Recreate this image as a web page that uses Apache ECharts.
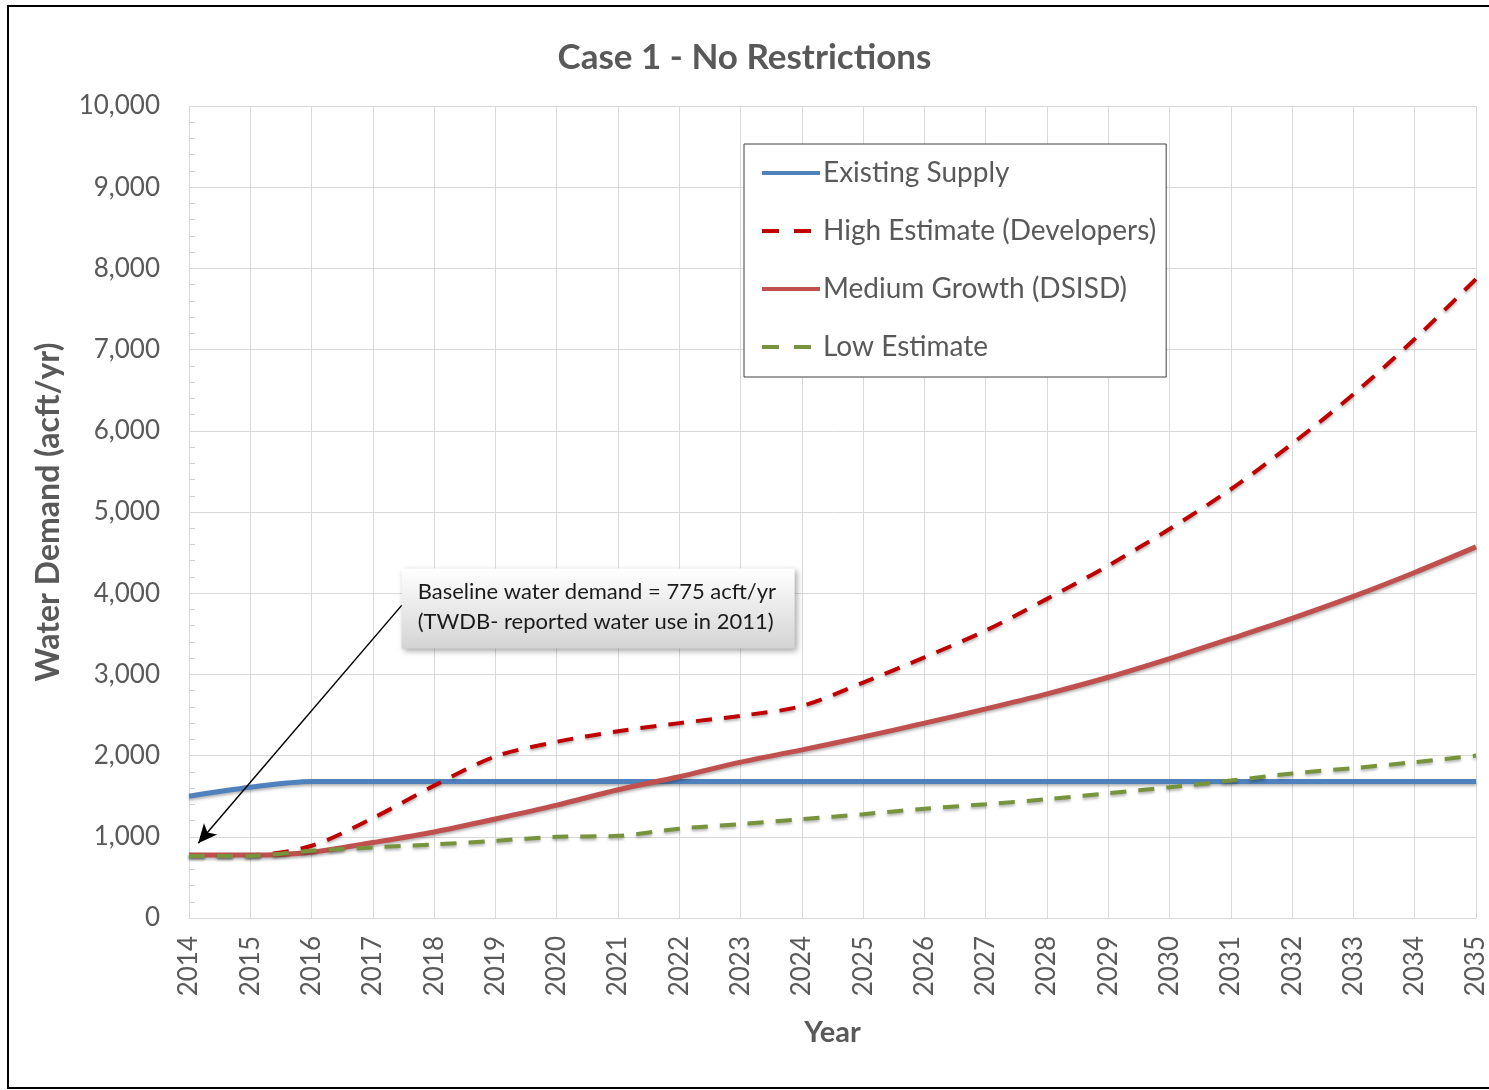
<!DOCTYPE html>
<html lang="en">
<head>
<meta charset="UTF-8">
<title>Case 1 - No Restrictions</title>
<script src="https://cdn.jsdelivr.net/npm/echarts@6/dist/echarts.min.js"></script>
<style>
  html, body { margin: 0; padding: 0; background: #fff; }
</style>
</head>
<body>
<div id="main" style="width:1489px;height:1090px;"></div>
<script>
  // years on the x axis
  var years = [2014, 2015, 2016, 2017, 2018, 2019, 2020, 2021, 2022, 2023, 2024,
               2025, 2026, 2027, 2028, 2029, 2030, 2031, 2032, 2033, 2034, 2035];

  // acft/yr
  var existingSupply = [1500, 1610, 1680, 1680, 1680, 1680, 1680, 1680, 1680, 1680, 1680,
                        1680, 1680, 1680, 1680, 1680, 1680, 1680, 1680, 1680, 1680, 1680];
  var highEstimate = [775, 775, 890, 1230, 1630, 1990, 2170, 2300, 2400, 2490, 2610,
                      2900, 3210, 3540, 3930, 4340, 4790, 5280, 5840, 6450, 7130, 7870];
  var mediumGrowth = [775, 775, 810, 930, 1060, 1220, 1390, 1580, 1740, 1920, 2070,
                      2230, 2400, 2575, 2760, 2965, 3195, 3440, 3690, 3960, 4255, 4570];
  var lowEstimate = [765, 765, 828, 869, 906, 951, 1000, 1012, 1100, 1156, 1217,
                     1279, 1345, 1402, 1463, 1537, 1610, 1692, 1780, 1846, 1920, 2000];

  var seriesNames = ['Existing Supply', 'High Estimate (Developers)', 'Medium Growth (DSISD)', 'Low Estimate'];

  // callout: arrow goes from the box to the 2014 baseline point
  var arrowFrom = [2017.47, 3850];
  var arrowTo = [2014.15, 920];
  var noteText = 'Baseline water demand = 775 acft/yr\n(TWDB- reported water use in 2011)';

  var font = 'Lato, "Open Sans", sans-serif';
  var grey = '#595959';

  function pairs(arr) {
    return years.map(function (y, i) { return [y, arr[i]]; });
  }

  var shadow = { shadowBlur: 3, shadowColor: 'rgba(0,0,0,0.3)', shadowOffsetY: 2 };
  var legendDash = { type: [17, 15] };

  var myChart = echarts.init(document.getElementById('main'));

  var option = {
    backgroundColor: '#fff',
    animation: false,
    textStyle: { fontFamily: font },
    title: {
      text: 'Case 1 - No Restrictions',
      left: 'center',
      top: 35,
      textStyle: { fontSize: 35, fontWeight: 'bold', color: grey, fontFamily: font }
    },
    legend: {
      orient: 'vertical',
      left: 744,
      top: 144,
      backgroundColor: '#fff',
      borderColor: '#404040',
      borderWidth: 1,
      padding: [15, 10, 16, 16],
      itemWidth: 58,
      itemHeight: 28,
      itemGap: 30,
      itemStyle: { opacity: 0 },
      lineStyle: { width: 4 },
      textStyle: { fontSize: 28, color: grey, fontFamily: font, padding: [0, 0, 0, -2] },
      data: [
        { name: seriesNames[0] },
        { name: seriesNames[1], lineStyle: legendDash },
        { name: seriesNames[2] },
        { name: seriesNames[3], lineStyle: legendDash }
      ]
    },
    grid: { left: 189, right: 11, top: 106, bottom: 172 },
    xAxis: {
      type: 'value',
      min: 2014,
      max: 2035,
      interval: 1,
      name: 'Year',
      nameLocation: 'middle',
      nameGap: 100,
      nameTextStyle: { fontSize: 29, fontWeight: 'bold', color: grey, fontFamily: font },
      axisLine: { show: true, lineStyle: { color: '#d9d9d9', width: 1 } },
      axisTick: { show: false },
      axisLabel: {
        rotate: 90,
        fontSize: 26,
        color: grey,
        margin: 18,
        formatter: function (v) { return String(v); }
      },
      splitLine: { show: true, lineStyle: { color: '#d9d9d9', width: 1 } }
    },
    yAxis: {
      type: 'value',
      min: 0,
      max: 10000,
      interval: 1000,
      name: 'Water Demand (acft/yr)',
      nameLocation: 'middle',
      nameGap: 124,
      nameTextStyle: { fontSize: 32, fontWeight: 'bold', color: grey, fontFamily: font },
      axisLine: { show: true, lineStyle: { color: '#d9d9d9' } },
      axisTick: { show: true, inside: true, length: 6, lineStyle: { color: '#d9d9d9' } },
      minorTick: { show: true, splitNumber: 5, length: 6, lineStyle: { color: '#cfcfcf' } },
      axisLabel: { fontSize: 26, color: grey, margin: 29 },
      splitLine: { show: true, lineStyle: { color: '#d9d9d9', width: 1 } }
    },
    series: [
      {
        name: seriesNames[0],
        type: 'line',
        data: pairs(existingSupply),
        smooth: 0.3,
        symbol: 'none',
        itemStyle: { color: '#4f81bd' },
        lineStyle: Object.assign({ color: '#4f81bd', width: 5 }, shadow),
        markLine: {
          silent: true,
          symbol: ['none', 'arrow'],
          symbolSize: [13, 19],
          label: { show: false },
          lineStyle: { color: '#000', width: 1.5, type: 'solid' },
          data: [[{ coord: arrowFrom }, { coord: arrowTo }]]
        }
      },
      {
        name: seriesNames[1],
        type: 'line',
        data: pairs(highEstimate),
        smooth: 0.3,
        symbol: 'none',
        itemStyle: { color: '#c00000' },
        lineStyle: Object.assign({ color: '#c00000', width: 4, type: [16, 12] }, shadow)
      },
      {
        name: seriesNames[2],
        type: 'line',
        data: pairs(mediumGrowth),
        smooth: 0.3,
        symbol: 'none',
        itemStyle: { color: '#c0504d' },
        lineStyle: Object.assign({ color: '#c0504d', width: 5 }, shadow)
      },
      {
        name: seriesNames[3],
        type: 'line',
        data: pairs(lowEstimate),
        smooth: 0.3,
        symbol: 'none',
        itemStyle: { color: '#77933c' },
        lineStyle: Object.assign({ color: '#77933c', width: 4, type: [16, 12] }, shadow)
      }
    ]
  };

  myChart.setOption(option);

  // place the callout box at the arrow's start, plus the outer frame
  var p = myChart.convertToPixel({ gridIndex: 0 }, arrowFrom);
  myChart.setOption({
    graphic: [
      {
        type: 'rect',
        silent: true,
        z: 100,
        shape: { x: 8, y: 6, width: 1500, height: 1082 },
        style: { fill: 'none', stroke: '#000', lineWidth: 2 }
      },
      {
        type: 'group',
        x: p[0],
        y: p[1] - 37,
        z: 50,
        children: [
          {
            type: 'rect',
            shape: { x: 0, y: 0, width: 393, height: 80 },
            style: {
              fill: new echarts.graphic.LinearGradient(0, 0, 0, 1, [
                { offset: 0, color: '#ffffff' },
                { offset: 1, color: '#d4d4d4' }
              ]),
              shadowBlur: 6,
              shadowOffsetX: 2,
              shadowOffsetY: 3,
              shadowColor: 'rgba(0,0,0,0.35)'
            }
          },
          {
            type: 'text',
            x: 16,
            y: 9,
            style: {
              text: noteText,
              font: '22px ' + font,
              fill: '#1a1a1a',
              lineHeight: 30
            }
          }
        ]
      }
    ]
  });
</script>
</body>
</html>
